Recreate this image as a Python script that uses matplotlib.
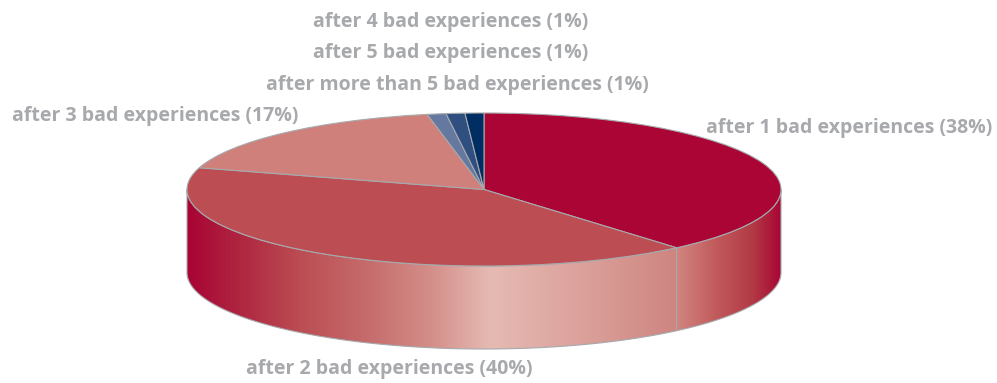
import numpy as np
import matplotlib
matplotlib.use("Agg")
import matplotlib.pyplot as plt
from matplotlib.colors import LinearSegmentedColormap
from matplotlib.patches import PathPatch
from matplotlib.path import Path

labels = ["after 1 bad experiences (38%)", "after 2 bad experiences (40%)",
          "after 3 bad experiences (17%)", "after more than 5 bad experiences (1%)",
          "after 5 bad experiences (1%)", "after 4 bad experiences (1%)"]
values = [38, 40, 17, 1, 1, 1]
colors = ["#AA0535", "#BB4D53", "#D0807B", "#6478A0", "#2F4F80", "#002D62"]

W, H = 997, 383
CX, CY, RX, RY, DEPTH = 484, 189.5, 297, 76.5, 83
EDGE = "#A7A9AC"
TEXT = "#A7A9AC"

fig = plt.figure(figsize=(W / 100, H / 100), dpi=100)
ax = fig.add_axes([0, 0, 1, 1])
wedges, _ = ax.pie(values, colors=colors, startangle=90, counterclock=False,
                   radius=1, wedgeprops=dict(edgecolor=EDGE, linewidth=0.8))
for w in wedges:
    w.set_zorder(5)
ax.set_aspect("auto")
xlim = (-CX / RX, (W - CX) / RX)
ylim = ((CY - H) / RY, CY / RY)
d = DEPTH / RY


def wall_path(t0, t1):
    t = np.linspace(t0, t1, 200)
    x, y = np.cos(t), np.sin(t)
    verts = np.r_[np.c_[x, y], np.c_[x[::-1], y[::-1] - d], [[x[0], y[0]]]]
    codes = [Path.MOVETO] + [Path.LINETO] * (len(verts) - 2) + [Path.CLOSEPOLY]
    return Path(verts, codes)


split = np.deg2rad(90 - 360 * values[0] / sum(values))  # boundary of slices 1 and 2
cmap_a = LinearSegmentedColormap.from_list("a", [(0, "#A80434"), (0.12, "#B02A42"), (0.23, "#BB4D53"),
                                                 (0.37, "#C66C6C"), (0.50, "#D48F8A"), (0.62, "#E6BAB4"),
                                                 (0.80, "#DCA29C"), (1, "#CE8580")])
cmap_b = LinearSegmentedColormap.from_list("b", [(0, "#D0857F"), (0.4, "#C0575A"), (0.72, "#B23A45"), (1, "#A80434")])

for (t0, t1, cmap) in [(np.pi, 2 * np.pi + split, cmap_a), (2 * np.pi + split, 2 * np.pi, cmap_b)]:
    x0, x1 = np.cos(t0), np.cos(t1)
    im = ax.imshow(np.linspace(0, 1, 256)[None, :], cmap=cmap, aspect="auto", zorder=1,
                   extent=(x0, x1, -1 - d, 1), interpolation="bilinear")
    p = wall_path(t0, t1)
    im.set_clip_path(PathPatch(p, transform=ax.transData))
    ax.add_patch(PathPatch(p, facecolor="none", edgecolor=EDGE, linewidth=0.8, zorder=2))

ax.set_xlim(xlim)
ax.set_ylim(ylim)
ax.set_axis_off()


def px(x, y):
    return (x - CX) / RX, (CY - y) / RY


positions = [(849, 128), (389, 369), (155, 116), (457, 85), (451, 53), (451, 22)]
for text, (x, y) in zip(labels, positions):
    ax.text(*px(x, y), text, ha="center", va="center", color=TEXT, fontsize=14.0,
            fontweight="bold", family="Open Sans", zorder=6)

fig.savefig("out.png", dpi=100)
